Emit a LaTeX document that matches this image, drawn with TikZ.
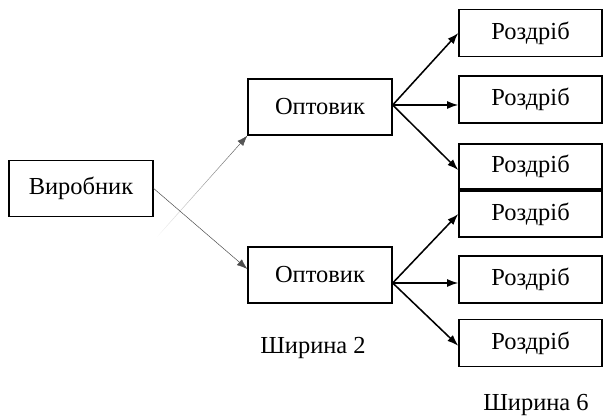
\documentclass[tikz,border=0pt]{standalone}
\usepackage{fontspec}
\setmainfont{Liberation Serif}
\usetikzlibrary{arrows.meta,fadings}

\begin{document}
\begin{tikzpicture}[
  box/.style={draw, line width=1pt, inner sep=0pt, minimum width=3.6cm, minimum height=1.4cm,
    font=\fontsize{17.4}{20}\selectfont},
  shop/.style={box, minimum width=3.575cm, minimum height=1.175cm},
  edge/.style={->, >={Latex[length=2.6mm, width=1.9mm]}, line width=0.35pt, black!70},
  strong/.style={->, >={Latex[length=2.8mm, width=2mm]}, line width=1.1pt},
  label/.style={font=\fontsize{17.4}{20}\selectfont},
]
\useasboundingbox (0,0) rectangle (15.075,10.4);

% --- producer and wholesalers ---
\node[box] (maker) at (2.025, 5.6875) {Виробник};
\node[box] (opt1) at (8.0, 7.725) {Оптовик};
\node[box] (opt2) at (8.0, 3.525) {Оптовик};

% --- retailers ---
\node[shop] (r1) at (13.2625, 9.575) {Роздріб};
\node[shop] (r2) at (13.2625, 7.9125) {Роздріб};
\node[shop, minimum height=1.125cm] (r3) at (13.2625, 6.2375) {Роздріб};
\node[shop, minimum height=1.15cm] (r4) at (13.2625, 5.05) {Роздріб};
\node[shop] (r5) at (13.2625, 3.4125) {Роздріб};
\node[shop] (r6) at (13.2625, 1.825) {Роздріб};

% --- widths ---
\node[label] (w2) at (7.825, 1.7) {Ширина 2};
\node[label] (w6) at (13.4, 0.275) {Ширина 6};

% --- connectors ---
\coordinate (fade) at (3.925, 4.475);
\coordinate (fan1) at ([yshift=0.05cm]opt1.east);
\coordinate (fan2) at ([yshift=-0.2cm]opt2.east);
\draw[edge, path fading=south] (fade) -- (opt1.south west);
\draw[edge] (maker.east) -- ([yshift=0.15cm]opt2.west);

\draw[strong] (fan1) -- (r1.west);
\draw[strong] (fan1) -- (fan1 -| r2.west);
\draw[strong] (fan1) -- ([yshift=-0.09cm]r3.west);
\draw[strong] (fan2) -- (r4.west);
\draw[strong] (fan2) -- (fan2 -| r5.west);
\draw[strong] (fan2) -- ([yshift=-0.07cm]r6.west);

\end{tikzpicture}
\end{document}
